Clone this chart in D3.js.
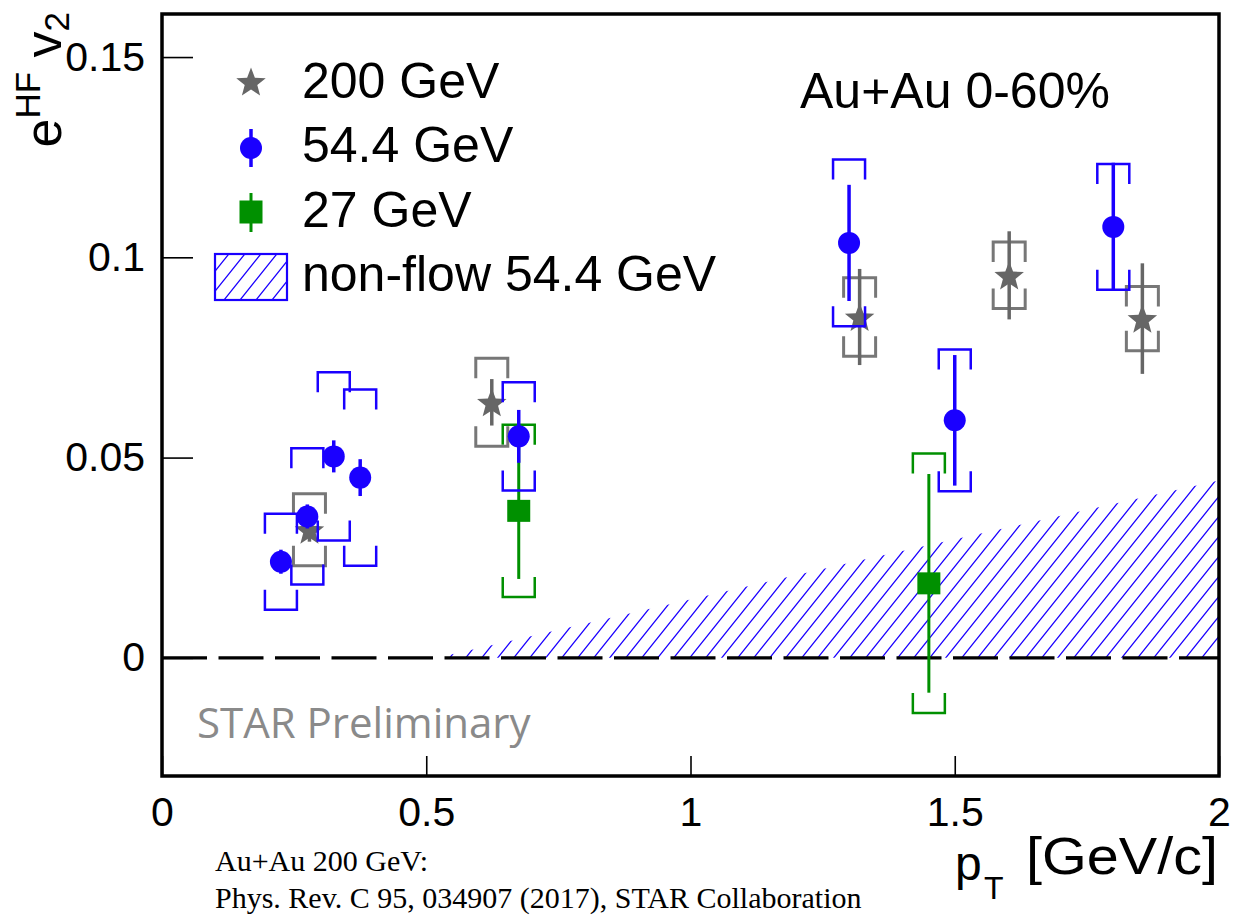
<!DOCTYPE html>
<html>
<head>
<meta charset="utf-8">
<script src="https://cdn.jsdelivr.net/npm/d3@7"></script>
<style>
  html, body { margin: 0; padding: 0; background: #fff; }
  svg { display: block; }
  text { font-family: "Liberation Sans", Arial, Helvetica, sans-serif; }
</style>
</head>
<body>
<svg id="chart" width="1235" height="915"></svg>
<script>
// ---- data: e^HF v2 vs pT, Au+Au 0-60% ----
// 200 GeV (published)
const pt200   = [0.279, 0.624, 1.32, 1.603, 1.855];
const v2_200  = [0.032, 0.0638, 0.0851, 0.0955, 0.0847];
const stat200 = [0.003, 0.0058, 0.012, 0.011, 0.0138];
const sys200  = [0.009, 0.011, 0.0098, 0.0083, 0.008];

// 54.4 GeV
const pt54   = [0.225, 0.275, 0.325, 0.375, 0.675, 1.30, 1.50, 1.80];
const v2_54  = [0.024, 0.0353, 0.0503, 0.045, 0.0553, 0.1036, 0.0593, 0.1076];
const stat54 = [0.003, 0.003, 0.004, 0.0046, 0.0066, 0.0145, 0.0163, 0.016];
const sys54  = [0.012, 0.017, 0.021, 0.022, 0.0135, 0.0208, 0.0177, 0.0157];

// 27 GeV
const pt27   = [0.675, 1.451];
const v2_27  = [0.0367, 0.0186];
const stat27 = [0.017, 0.0273];
const sys27  = [0.0215, 0.0324];

// non-flow estimate, 54.4 GeV (upper edge of the band)
const ptNonflow = [0.52, 1.32, 2.0];
const v2Nonflow = [0.0, 0.0243, 0.0443];

// axis ticks
const xTicks = [0, 0.5, 1, 1.5, 2];
const yTicks = [0, 0.05, 0.1, 0.15];

const legendLabels = ["200 GeV", "54.4 GeV", "27 GeV", "non-flow 54.4 GeV"];

// ---- styles ----
const C_GRAY = "#666666", C_GRAY_SYS = "#777777";
const C_BLUE = "#1a00ff";
const C_GREEN = "#009000";
const FONT_MAIN = 50;

const svg = d3.select("#chart");
const x = d3.scaleLinear().domain([0, 2]).range([162, 1219]);
const y = d3.scaleLinear().domain([-0.0295, 0.16075]).range([776, 14]);

// hatch pattern for the non-flow band
const defs = svg.append("defs");
const pat = defs.append("pattern")
  .attr("id", "hatch").attr("patternUnits", "userSpaceOnUse")
  .attr("width", 16).attr("height", 20);
pat.append("path")
  .attr("d", "M0,20 L16,0 M-4,5 L4,-5 M12,25 L20,15")
  .attr("stroke", C_BLUE).attr("stroke-width", 1.3).attr("fill", "none");

const clip = defs.append("clipPath").attr("id", "plotclip");
clip.append("rect").attr("x", x(0)).attr("y", y(0.16075))
  .attr("width", x(2) - x(0)).attr("height", y(-0.0295) - y(0.16075));

const plot = svg.append("g").attr("clip-path", "url(#plotclip)");

// non-flow band
const band = d3.area()
  .x((d, i) => x(ptNonflow[i]))
  .y0(() => y(0))
  .y1(d => y(d));
plot.append("path").datum(v2Nonflow)
  .attr("d", band).attr("fill", "url(#hatch)");

// zero line
plot.append("line")
  .attr("x1", x(0)).attr("x2", x(2)).attr("y1", y(0)).attr("y2", y(0))
  .attr("stroke", "#000").attr("stroke-width", 3.2)
  .attr("stroke-dasharray", "45,11.5");

// marker shapes
function starPath(cx, cy, ro, ri) {
  const pts = [];
  for (let i = 0; i < 10; i++) {
    const a = -Math.PI / 2 + i * Math.PI / 5;
    const r = i % 2 ? ri : ro;
    pts.push([cx + r * Math.cos(a), cy + r * Math.sin(a)]);
  }
  return "M" + pts.map(p => p.join(",")).join("L") + "Z";
}

function bracketPath(px, yTop, yBot) {
  const w = 16, arm = 20;
  return `M${px - w},${yTop + arm}V${yTop}H${px + w}V${yTop + arm}` +
         `M${px - w},${yBot - arm}V${yBot}H${px + w}V${yBot - arm}`;
}

function drawSeries(pts, vals, stat, sys, opt) {
  const g = plot.append("g");
  const idx = d3.range(pts.length);
  // systematic brackets
  g.selectAll("path.sys").data(idx).join("path")
    .attr("class", "sys")
    .attr("d", i => bracketPath(x(pts[i]), y(vals[i] + sys[i]), y(vals[i] - sys[i])))
    .attr("fill", "none").attr("stroke", opt.sysColor)
    .attr("stroke-width", opt.sysWidth);
  // statistical bars
  g.selectAll("line.stat").data(idx).join("line")
    .attr("class", "stat")
    .attr("x1", i => x(pts[i])).attr("x2", i => x(pts[i]))
    .attr("y1", i => y(vals[i] + stat[i])).attr("y2", i => y(vals[i] - stat[i]))
    .attr("stroke", opt.color).attr("stroke-width", opt.statWidth);
  // markers
  idx.forEach(i => {
    const cx = x(pts[i]), cy = y(vals[i]);
    if (opt.shape === "circle") {
      g.append("circle").attr("cx", cx).attr("cy", cy).attr("r", 11).attr("fill", opt.color);
    } else if (opt.shape === "square") {
      g.append("rect").attr("x", cx - 11.5).attr("y", cy - 11).attr("width", 23).attr("height", 22).attr("fill", opt.color);
    } else {
      g.append("path").attr("d", starPath(cx, cy + 1.5, 15.5, 6.6)).attr("fill", opt.color);
    }
  });
}

drawSeries(pt27, v2_27, stat27, sys27, { color: C_GREEN, sysColor: C_GREEN, sysWidth: 2.5, statWidth: 3, shape: "square" });
drawSeries(pt200, v2_200, stat200, sys200, { color: C_GRAY, sysColor: C_GRAY_SYS, sysWidth: 3, statWidth: 3.5, shape: "star" });
drawSeries(pt54, v2_54, stat54, sys54, { color: C_BLUE, sysColor: C_BLUE, sysWidth: 2.5, statWidth: 3.5, shape: "circle" });

// axes
const yAxis = d3.axisLeft(y).tickValues(yTicks).tickSize(-31).tickPadding(17)
  .tickFormat(d => String(d));
const gy = svg.append("g").attr("transform", `translate(${x(0)},0)`).call(yAxis);
const xAxis = d3.axisBottom(x).tickValues(xTicks).tickSize(-20).tickPadding(21)
  .tickFormat(d => String(d));
const gx = svg.append("g").attr("transform", `translate(0,${y(-0.0295)})`).call(xAxis);
[gx, gy].forEach(g => {
  g.select(".domain").remove();
  g.selectAll(".tick line").attr("stroke", "#000").attr("stroke-width", 1.6);
  g.selectAll(".tick text").attr("fill", "#000")
    .style("font-family", '"Liberation Sans", Arial, sans-serif')
    .style("font-size", "41px");
});

// frame
svg.append("rect")
  .attr("x", x(0)).attr("y", y(0.16075))
  .attr("width", x(2) - x(0)).attr("height", y(-0.0295) - y(0.16075))
  .attr("fill", "none").attr("stroke", "#000").attr("stroke-width", 3.5);

// axis titles
const yt = svg.append("text")
  .attr("transform", "translate(61,12) rotate(-90)")
  .attr("text-anchor", "end").attr("font-size", 52).attr("fill", "#000");
yt.append("tspan").text("e");
yt.append("tspan").attr("font-size", 35).attr("dy", -21).text("HF");
yt.append("tspan").attr("dy", 21).text(" v");
yt.append("tspan").attr("font-size", 35).attr("dy", 8).text("2");

svg.append("text").attr("x", 955).attr("y", 880).attr("font-size", 48).text("p");
svg.append("text").attr("x", 984).attr("y", 899).attr("font-size", 32).text("T");
svg.append("text").attr("x", 1218).attr("y", 874).attr("text-anchor", "end")
  .attr("font-size", 52).attr("textLength", 192).attr("lengthAdjust", "spacingAndGlyphs")
  .text("[GeV/c]");

// annotations
svg.append("text").attr("x", 800).attr("y", 108).attr("font-size", FONT_MAIN).text("Au+Au 0-60%");
svg.append("text").attr("x", 197).attr("y", 738)
  .style("font-family", '"Open Sans", sans-serif').attr("font-size", 42)
  .attr("fill", "#8a8a8a").text("STAR Preliminary");

const cite = svg.append("g").attr("font-size", 30);
cite.append("text").attr("x", 215).attr("y", 871)
  .style("font-family", '"Liberation Serif", "Times New Roman", serif').text("Au+Au 200 GeV:");
cite.append("text").attr("x", 215).attr("y", 908)
  .style("font-family", '"Liberation Serif", "Times New Roman", serif')
  .text("Phys. Rev. C 95, 034907 (2017), STAR Collaboration");

// legend
const lg = svg.append("g");
const lx = 251, textX = 302;
const rows = [98, 162, 227, 291];
lg.append("path").attr("d", starPath(lx, 83, 15.5, 6.6)).attr("fill", C_GRAY);
lg.append("line").attr("x1", lx).attr("x2", lx).attr("y1", 129).attr("y2", 167)
  .attr("stroke", C_BLUE).attr("stroke-width", 3.5);
lg.append("circle").attr("cx", lx).attr("cy", 148).attr("r", 11).attr("fill", C_BLUE);
lg.append("line").attr("x1", lx).attr("x2", lx).attr("y1", 193).attr("y2", 232)
  .attr("stroke", C_GREEN).attr("stroke-width", 3);
lg.append("rect").attr("x", lx - 11.5).attr("y", 200.5).attr("width", 23).attr("height", 23).attr("fill", C_GREEN);
lg.append("rect").attr("x", 215).attr("y", 254).attr("width", 72).attr("height", 46)
  .attr("fill", "url(#hatch)").attr("stroke", C_BLUE).attr("stroke-width", 2.2);
lg.selectAll("text.lab").data(legendLabels).join("text")
  .attr("class", "lab").attr("x", textX).attr("y", (d, i) => rows[i])
  .attr("font-size", FONT_MAIN).attr("fill", "#000").text(d => d);
</script>
</body>
</html>
